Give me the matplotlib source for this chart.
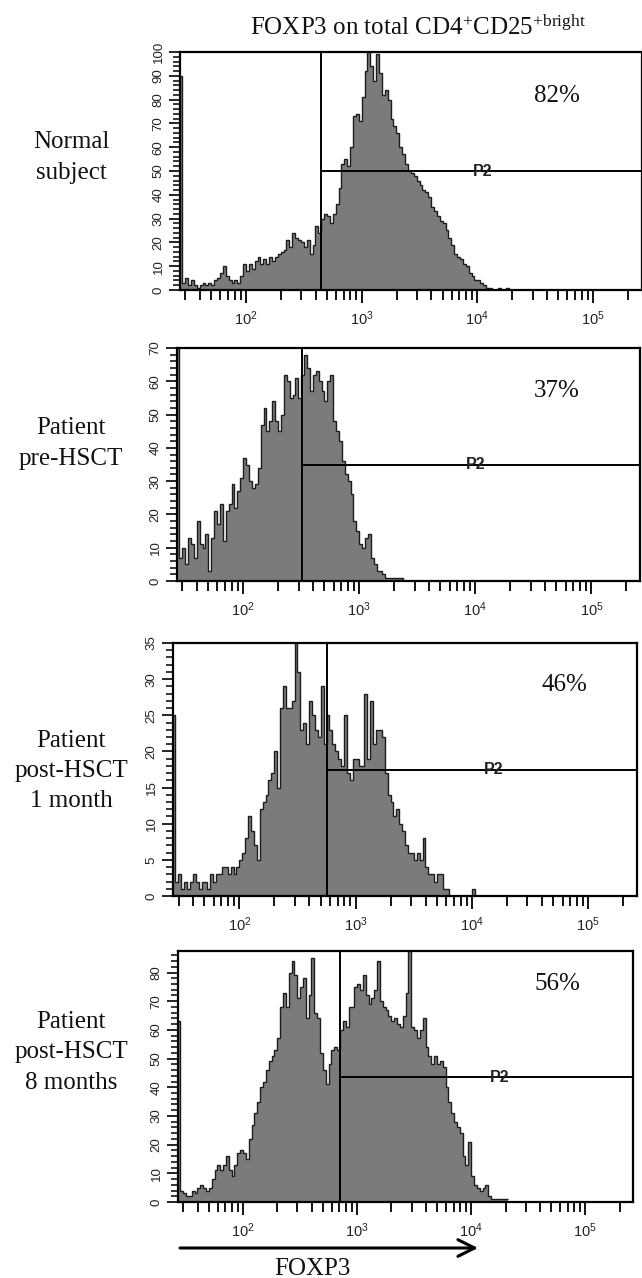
import numpy as np
import matplotlib
matplotlib.use("Agg")
import matplotlib.pyplot as plt
from matplotlib.ticker import LogLocator, MultipleLocator, FixedLocator, FixedFormatter, NullFormatter
from matplotlib.patches import FancyArrowPatch

plt.rcParams['mathtext.fontset'] = 'custom'
plt.rcParams['mathtext.rm'] = 'Liberation Serif'

# ---------------- data ----------------
panel_names = ["Normal\nsubject", "Patient\npre-HSCT", "Patient\npost-HSCT\n1 month",
               "Patient\npost-HSCT\n8 months"]
percent_labels = ["82%", "37%", "46%", "56%"]
gate_label = "P2"

# histogram bins on a log10 grid starting at 10**1.425, width 0.025 decades
bin_log_start = 1.425
bin_log_width = 0.025

counts_normal = [90, 3, 5, 2, 4, 2, 1, 2, 3, 2,
                 3, 2, 4, 5, 7, 10, 6, 4, 3, 4,
                 3, 6, 11, 8, 11, 9, 12, 14, 11, 13,
                 11, 14, 12, 14, 15, 16, 17, 21, 18, 24,
                 22, 21, 20, 18, 21, 15, 19, 27, 24, 30,
                 32, 31, 28, 32, 36, 43, 53, 55, 52, 60,
                 73, 74, 71, 81, 92, 100, 94, 88, 99, 91,
                 82, 84, 80, 72, 69, 66, 60, 57, 53, 50,
                 49, 48, 46, 44, 42, 41, 39, 35, 33, 31,
                 29, 28, 25, 22, 19, 15, 14, 13, 11, 10,
                 7, 6, 4, 4, 3, 2, 1, 1, 0, 0,
                 1, 0, 0, 1, 0]

counts_pre = [75, 7, 10, 5, 13, 11, 7, 18, 11, 10,
              14, 3, 13, 21, 17, 23, 12, 21, 23, 29,
              22, 27, 31, 37, 35, 30, 28, 29, 34, 47,
              52, 45, 48, 54, 48, 45, 50, 62, 60, 55,
              56, 61, 55, 62, 68, 64, 57, 62, 63, 60,
              57, 54, 60, 62, 48, 45, 42, 36, 32, 30,
              26, 18, 15, 11, 10, 13, 14, 7, 5, 3,
              3, 2, 1, 1, 1, 1, 1, 1, 0]

counts_1m = [25, 2, 3, 1, 2, 1, 2, 3, 2, 1,
             2, 2, 1, 3, 2, 3, 3, 4, 4, 3,
             4, 3, 4, 5, 6, 8, 11, 9, 7, 5,
             12, 13, 14, 16, 17, 20, 15, 26, 29, 26,
             26, 27, 37, 31, 23, 24, 21, 27, 25, 23,
             22, 29, 21, 25, 23, 21, 20, 19, 18, 25,
             17, 16, 19, 19, 18, 18, 28, 19, 27, 21,
             23, 23, 22, 17, 14, 13, 11, 12, 10, 9,
             7, 6, 6, 5, 6, 5, 8, 4, 3, 3,
             2, 3, 3, 1, 1, 0, 0, 0, 0, 0,
             0, 0, 0, 1, 0]

counts_8m = [63, 4, 3, 2, 2, 4, 3, 5, 6, 5,
             4, 5, 8, 11, 13, 11, 13, 16, 11, 9,
             13, 17, 18, 17, 15, 22, 27, 31, 35, 40,
             42, 46, 49, 51, 53, 57, 68, 73, 68, 80,
             84, 79, 71, 75, 78, 64, 72, 85, 66, 64,
             52, 46, 41, 48, 53, 54, 53, 60, 63, 61,
             68, 68, 75, 76, 74, 79, 72, 69, 71, 74,
             84, 70, 68, 67, 65, 63, 64, 62, 61, 65,
             73, 90, 61, 60, 57, 60, 64, 54, 51, 48,
             51, 48, 49, 47, 40, 35, 31, 28, 26, 24,
             16, 13, 21, 9, 6, 5, 4, 5, 6, 2,
             1, 1, 1, 1, 1, 1]

all_counts = [counts_normal, counts_pre, counts_1m, counts_8m]
y_max = [100, 70, 35, 87.5]
y_major = [10, 10, 5, 10]
y_minor = [2, 2, 1, 2]
gate_x = [444, 321, 566, 706]          # FOXP3 intensity of the P2 gate start
gate_y = [50, 35, 17.5, 43.5]          # height of the P2 marker line
gate_label_x = [11200, 10000, 15500, 17800]

x_tick_vals = [1e2, 1e3, 1e4, 1e5]
x_tick_labels = [r"$\mathregular{10^{2}}$", r"$\mathregular{10^{3}}$",
                 r"$\mathregular{10^{4}}$", r"$\mathregular{10^{5}}$"]
x_limits = (26.9, 262143)

# ---------------- layout (pixels) ----------------
W, H = 642, 1278
rects_px = [(180, 52, 641.5, 290), (177, 348, 640, 581),
            (173, 643, 637, 896), (178, 951, 633, 1202)]
label_baselines = [[148, 179], [434, 465], [747, 777, 807], [1028, 1058, 1089]]
pct_pos = [(557, 102), (557, 397), (564, 691), (557, 990)]

fig = plt.figure(figsize=(W / 100, H / 100), dpi=100)

SERIF = ['Liberation Serif', 'DejaVu Serif']
SANS = ['Liberation Sans', 'DejaVu Sans']
fill_col = '#7b7b7b'
edge_col = '#1c1c1c'

def fx(x):
    return x / W

def fy(y):
    return 1 - y / H

for i, (l, t, r, b) in enumerate(rects_px):
    ax = fig.add_axes([l / W, 1 - b / H, (r - l) / W, (b - t) / H])
    vals = np.array(all_counts[i], dtype=float)
    edges = 10 ** (bin_log_start + bin_log_width * np.arange(len(vals) + 1))
    ax.stairs(vals, edges, fill=True, color=fill_col, baseline=0, zorder=1)
    ax.stairs(vals, edges, fill=False, color=edge_col, lw=1.0, baseline=None, zorder=2)
    ax.set_xscale('log')
    ax.set_xlim(*x_limits)
    ax.set_ylim(0, y_max[i])

    # gate
    ax.axvline(gate_x[i], color='black', lw=1.4, zorder=3)
    ax.plot([gate_x[i], x_limits[1]], [gate_y[i], gate_y[i]], color='black', lw=1.4,
            zorder=3, clip_on=False)
    ax.text(gate_label_x[i], gate_y[i], gate_label, ha='center', va='center',
            family=SANS, fontsize=11.5, fontweight='bold', color='#222222', zorder=4)

    # ticks
    ax.xaxis.set_major_locator(FixedLocator(x_tick_vals))
    ax.xaxis.set_major_formatter(FixedFormatter(x_tick_labels))
    ax.xaxis.set_minor_locator(LogLocator(base=10, subs=np.arange(2, 10)))
    ax.xaxis.set_minor_formatter(NullFormatter())
    ax.yaxis.set_major_locator(MultipleLocator(y_major[i]))
    ax.yaxis.set_minor_locator(MultipleLocator(y_minor[i]))
    ax.tick_params(axis='x', which='major', direction='out', length=9, width=1.3,
                   pad=5, labelsize=10.5, colors='black')
    ax.tick_params(axis='x', which='minor', direction='out', length=7, width=1.3)
    ax.tick_params(axis='y', which='major', direction='out', length=8, width=1.2,
                   pad=3, labelsize=9.5, labelrotation=90)
    ax.tick_params(axis='y', which='minor', direction='out', length=5, width=1.1)
    for lab in ax.get_xticklabels() + ax.get_yticklabels():
        lab.set_family(SANS)
        lab.set_color('#222222')
    for lab in ax.get_yticklabels():
        lab.set_va('center')
    for s in ax.spines.values():
        s.set_linewidth(1.6)
        s.set_color('black')

    # left sample label
    for line, yb in zip(panel_names[i].split("\n"), label_baselines[i]):
        fig.text(fx(71), fy(yb), line, ha='center', va='baseline',
                 family=SERIF, fontsize=18, color='#111111')
    px, py = pct_pos[i]
    fig.text(fx(px), fy(py), percent_labels[i], ha='center', va='baseline',
             family=SERIF, fontsize=18, color='#111111')

# title
fig.text(fx(418.5), fy(35), r"FOXP3 on total CD4$\mathregular{^{+}}$CD25$\mathregular{^{+bright}}$",
         ha='center', va='baseline', family=SERIF, fontsize=18, color='#111111')

# arrow and axis label
arr = FancyArrowPatch((fx(180), fy(1248)), (fx(478), fy(1248)), transform=fig.transFigure,
                      arrowstyle='->,head_length=0.6,head_width=0.3', mutation_scale=20,
                      lw=2.2, color='black', shrinkA=0, shrinkB=0)
fig.patches.append(arr)
fig.text(fx(312), fy(1275), "FOXP3", ha='center', va='baseline', family=SERIF,
         fontsize=18, color='#111111')

fig.savefig("out.png", dpi=100, facecolor='white')
